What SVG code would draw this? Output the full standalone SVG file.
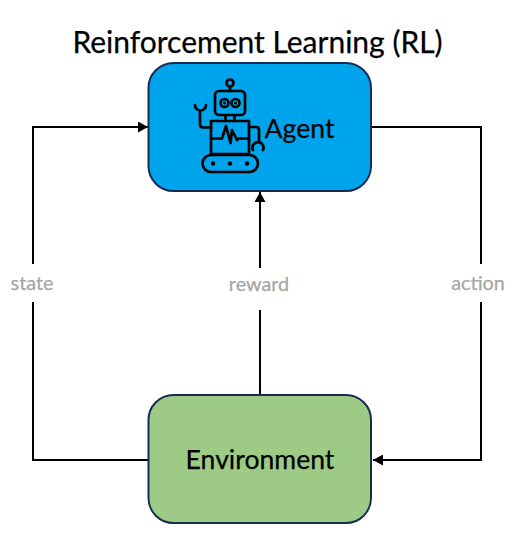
<svg xmlns="http://www.w3.org/2000/svg" width="519" height="535" viewBox="0 0 519 535">
<style>
text{font-family:"Lato","Liberation Sans",sans-serif;fill:#000;stroke:#000;stroke-width:.25}
.box{stroke:#172c51;stroke-width:2}
.c{fill:none;stroke:#000;stroke-width:2}
text.lab{font-size:19.800px;fill:#a6a6a6;stroke:#a6a6a6;text-anchor:middle}
.bg{fill:#fff}
.n{font-size:26.600px;text-anchor:middle}
.r{fill:none;stroke:#000;stroke-width:2.700;stroke-linejoin:round;stroke-linecap:round}
</style>
<defs>
<marker id="a" markerUnits="userSpaceOnUse" markerWidth="11" markerHeight="11" refX="10" refY="5.500" orient="auto"><path d="M0 0L10 5.500L0 11Z" fill="#000"/></marker>
</defs>
<rect width="519" height="535" fill="#fff"/>
<text id="title" x="257.500" y="52.500" font-size="30" text-anchor="middle">Reinforcement Learning (RL)</text>
<g id="connectors">
<path class="c" marker-end="url(#a)" d="M148 460H33V127H148"/>
<path class="c" marker-end="url(#a)" d="M260 395V192"/>
<path class="c" marker-end="url(#a)" d="M371 127H481V460H373"/>
</g>
<g id="label-state"><rect class="bg" x="8" y="264" width="50" height="38"/><text class="lab" x="32" y="290">state</text></g>
<g id="label-reward"><rect class="bg" x="224" y="268" width="72" height="42"/><text class="lab" x="259" y="291">reward</text></g>
<g id="label-action"><rect class="bg" x="448" y="264" width="66" height="38"/><text class="lab" x="478" y="290">action</text></g>
<g id="agent">
<rect class="box" x="148.500" y="63" width="222.500" height="128" rx="25" fill="#00a4ec"/>
<g id="robot">
<circle class="r" cx="230" cy="83" r="3.500"/>
<path class="r" d="M230 86.500V91"/>
<rect class="r" x="215" y="91" width="30" height="24" rx="4"/>
<circle class="r" cx="224.500" cy="103" r="4"/>
<circle class="r" cx="235.500" cy="103" r="4"/>
<circle cx="224.500" cy="103" r="1.500" fill="#000"/>
<circle cx="235.500" cy="103" r="1.500" fill="#000"/>
<path class="r" d="M225.500 115V121M234.500 115V121"/>
<rect class="r" x="211" y="121" width="38" height="33"/>
<path class="r" d="M211 138.500H222L226 126L230.500 143L232 130L237 140L239 138.500H249"/>
<path class="r" d="M211 127.500H203Q200 127.500 200 124V112"/>
<path class="r" d="M195 105A5.500 5.500 0 0 0 206 105"/>
<path class="r" d="M249 127H256Q259 127 259 130V141"/>
<path class="r" d="M253 150A5.500 5.500 0 1 1 263 150"/>
<rect class="r" x="202.500" y="155" width="55.500" height="17" rx="8.500"/>
<circle cx="213" cy="163.500" r="2.200" fill="#000"/>
<circle cx="230" cy="163.500" r="2.200" fill="#000"/>
<circle cx="247" cy="163.500" r="2.200" fill="#000"/>
</g>
<text class="n" x="299.500" y="138">Agent</text>
</g>
<g id="environment">
<rect class="box" x="148.500" y="395" width="222.500" height="128" rx="25" fill="#9dcb85"/>
<text class="n" x="260" y="469">Environment</text>
</g>
</svg>
